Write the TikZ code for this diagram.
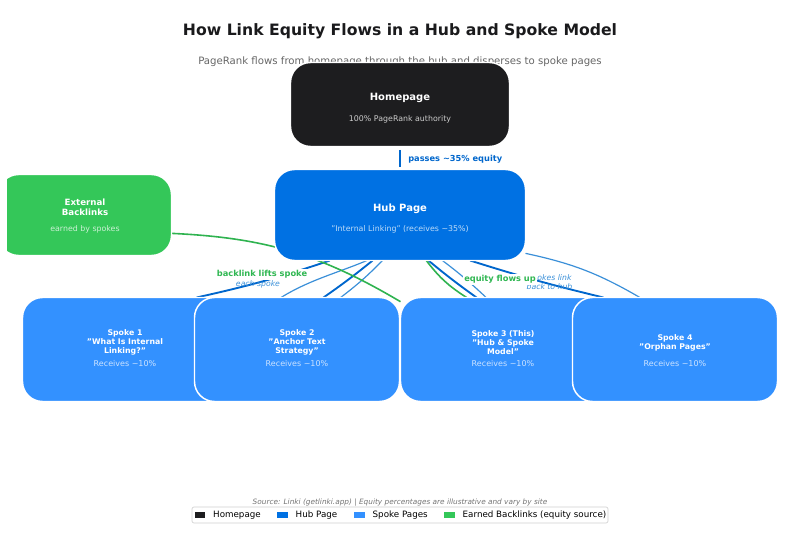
\documentclass[tikz,border=0pt]{standalone}
\usepackage{fontspec}
\setmainfont{DejaVu Sans}
\usetikzlibrary{positioning,backgrounds}
\definecolor{HomeCol}{HTML}{1D1D1F}
\definecolor{HubCol}{HTML}{0071E3}
\definecolor{SpokeCol}{HTML}{3391FF}
\definecolor{GreenCol}{HTML}{34C759}
\definecolor{EquityCol}{HTML}{0066CC}
\definecolor{BackCol}{HTML}{3A8FD8}
\newcommand{\fs}[1]{\fontsize{#1}{\dimexpr #1pt*9/8\relax}\selectfont}
\tikzset{
  page box/.style={
    shape=rectangle,
    draw=white,
    line width=1.1pt,
    rounded corners=15pt,
    inner sep=0pt,
    outer sep=0pt,
    },
  HomeBox/.style={page box,fill=HomeCol,minimum width=164.25pt,minimum height=63pt},
  HubBox/.style={page box,fill=HubCol,minimum width=188.25pt,minimum height=68.25pt},
  ExtBox/.style={page box,fill=GreenCol,minimum width=129.75pt,minimum height=60.75pt},
  SpokeBox/.style={page box,fill=SpokeCol,minimum width=153.75pt,minimum height=78pt},
  BoxTitle/.style={text=white,font=\fs{7.5}\bfseries,align=center,inner sep=0pt},
  BoxSub/.style={font=\fs{5.9},inner sep=0pt},
  SpokeTitle/.style={text=white,font=\fs{5.85}\bfseries,align=center,inner sep=0pt},
  SpokeSub/.style={BoxSub,font=\fs{6},text=white!75!SpokeCol},
  EdgeLab/.style={font=\fs{6.2}\bfseries,inner sep=1pt},
  NoteLab/.style={font=\fs{5.8}\itshape,text=BackCol,align=center,inner sep=0pt},
  LegPatch/.style={minimum width=8pt,minimum height=4.5pt,inner sep=0pt},
  LegText/.style={font=\fs{6.55},inner sep=0pt,right=5.5pt of #1},
}
\tikzstyle{Down} = [EquityCol,line width=1.4pt]
\tikzstyle{Back} = [BackCol,line width=.9pt]
\tikzstyle{Earned} = [GreenCol!90!black,line width=1.2pt]

\begin{document}
\begin{tikzpicture}[x=.75pt,y=-.75pt]
    \useasboundingbox (0,0) rectangle (800,534);

    \node[font=\fs{11.75}\bfseries,text=HomeCol!90!black] (title) at (400,31) {How Link Equity Flows in a Hub and Spoke Model};
    \node[font=\fs{7.62},text=black!60] (subtitle) at (400,61.5) {PageRank flows from homepage through the hub and disperses to spoke pages};

    % Boxes

    \node[HomeBox] (home) at (400,104.5) {};
    \node[HubBox] (hub) at (400,215) {};

    \begin{scope}
        \clip (7,0) rectangle (800,534);
        \node[ExtBox] (ext) at (85,215) {};
    \end{scope}

    \node[SpokeBox] (sa) at (125,349.5) {};
    \node[SpokeBox] (sb) at (297,349.5) {};
    \node[SpokeBox] (sc) at (503,349.5) {};
    \node[SpokeBox] (sd) at (675,349.5) {};

    % Box texts

    \node[BoxTitle] (homeT) at (400,98) {Homepage};
    \node[BoxSub,text=white!80!black] (homeS) at (400,119) {100\% PageRank authority};

    \node[BoxTitle] (hubT) at (400,209) {Hub Page};
    \node[BoxSub,text=white!75!HubCol] (hubS) at (400,229) {"Internal Linking" (receives \textasciitilde35\%)};

    \node[SpokeTitle,font=\fs{6.5}\bfseries] (extT) at (85,207.5) {External\\Backlinks};
    \node[BoxSub,text=white!75!GreenCol] (extS) at (85,229) {earned by spokes};

    \node[SpokeTitle] (saT) at (125,342.5) {Spoke 1\\"What Is Internal\\Linking?"};
    \node[SpokeSub] (saS) at (125,364) {Receives \textasciitilde10\%};
    \node[SpokeTitle] (sbT) at (297,342.5) {Spoke 2\\"Anchor Text\\Strategy"};
    \node[SpokeSub] (sbS) at (297,364) {Receives \textasciitilde10\%};
    \node[SpokeTitle] (scT) at (503,342.5) {Spoke 3 (This)\\"Hub \& Spoke\\Model"};
    \node[SpokeSub] (scS) at (503,364) {Receives \textasciitilde10\%};
    \node[SpokeTitle] (sdT) at (675,342.5) {Spoke 4\\"Orphan Pages"};
    \node[SpokeSub] (sdS) at (675,364) {Receives \textasciitilde10\%};

    % Flows

    \begin{scope}[on background layer]
        \draw[EquityCol,line width=2.2pt,shorten <=2.5pt,shorten >=1.5pt] (home.south) -- (hub.north);

        \draw[Down] (hub.-147) to[bend left=3] (sa.36);
        \draw[Back] (hub.-126) .. controls +(-47,20) and +(43,-62) .. (sa.east);

        \draw[Down] (hub.-121) to[bend left=2] (sb.63);
        \draw[Back] (hub.-111) to[bend left=4] (sb.50);

        \draw[Down] (hub.-58) to[bend right=2] (sc.117);
        \draw[Back] (hub.-47) to[bend left=3] (sc.108);
        \draw[Earned] (sc.125) to[bend left=10] (hub.-60);

        \draw[Down] (hub.-33) to[bend right=2] (sd.144);
        \draw[Back] (hub.-17.5) to[bend left=9] (sd.124);

        \draw[Earned] (ext.-12.5) to[bend left=14] (sc.155);
    \end{scope}

    % Labels

    \node[EdgeLab,text=EquityCol,right=5pt of home.south,yshift=-9.75pt] (passes) {passes \textasciitilde35\% equity};

    \node[NoteLab] (each) at (258,284) {each spoke};
    \node[EdgeLab,text=GreenCol!92!black,fill=white] (lifts) at (262,274.5) {backlink lifts spoke};

    \node[NoteLab] (back) at (549.5,282) {Spokes link\\back to hub};
    \node[EdgeLab,text=GreenCol!92!black,fill=white] (flows) at (500,279.5) {equity flows up};

    % Legend

    \node[font=\fs{5.5}\itshape,text=black!55] (source) at (400,502.5) {Source: Linki (getlinki.app) | Equity percentages are illustrative and vary by site};
    \node[draw=black!18,fill=white,rounded corners=1.5pt,line width=.5pt,minimum width=312pt,minimum height=12pt,inner sep=0pt] (legend) at (400,515) {};

    \node[LegPatch,fill=HomeCol] (legA) at (200,515) {};
    \node[LegText=legA] (legAT) {Homepage};
    \node[LegPatch,fill=HubCol] (legB) at (282.5,515) {};
    \node[LegText=legB] (legBT) {Hub Page};
    \node[LegPatch,fill=SpokeCol] (legC) at (359.5,515) {};
    \node[LegText=legC] (legCT) {Spoke Pages};
    \node[LegPatch,fill=GreenCol] (legD) at (449.5,515) {};
    \node[LegText=legD] (legDT) {Earned Backlinks (equity source)};

\end{tikzpicture}
\end{document}
